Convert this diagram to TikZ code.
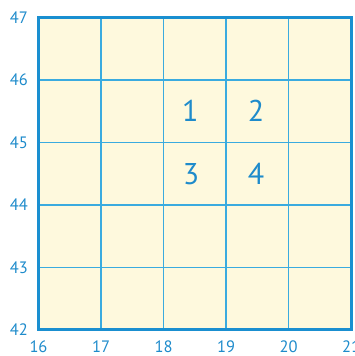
\documentclass[tikz,border=0pt]{standalone}
\usepackage{fontspec}
\setmainfont{PT Sans}
\definecolor{gridfill}{HTML}{FEF9DD}
\definecolor{gridline}{HTML}{3AABDF}
\definecolor{borderblue}{HTML}{1A8FD0}
\definecolor{textblue}{HTML}{1E8BCB}
\tikzset{
  axislabel/.style={text=textblue, font=\fontsize{16.5}{18}\selectfont, inner sep=0pt},
  cellnum/.style={text=textblue, font=\fontsize{30}{32}\selectfont, inner sep=0pt},
  gridstroke/.style={draw=gridline, line width=1.3pt},
  borderstroke/.style={draw=borderblue, line width=3pt}
}
\begin{document}
\begin{tikzpicture}[x=62.5pt, y=62.5pt]
\useasboundingbox (-38.5pt,-26pt) rectangle (316.5pt,330pt);
\fill[gridfill] (0,0) rectangle (5,5);
\foreach \i in {1,...,4} {
  \draw[gridstroke] (\i,0) -- (\i,5);
  \draw[gridstroke] (0,\i) -- (5,\i);
}
\draw[borderstroke] (0,0) rectangle (5,5);
\foreach \v [count=\k from 0] in {42,...,47} {
  \node[axislabel, anchor=east] (yl\v) at (-10.5pt,\k) {\v};
}
\foreach \v [count=\k from 0] in {16,...,21} {
  \node[axislabel] (xl\v) at (\k,-17pt) {\v};
}
\node[cellnum] (n1) at (2.43,3.5) {1};
\node[cellnum] (n2) at (3.48,3.5) {2};
\node[cellnum] (n3) at (2.44,2.5) {3};
\node[cellnum] (n4) at (3.48,2.5) {4};
\end{tikzpicture}
\end{document}
